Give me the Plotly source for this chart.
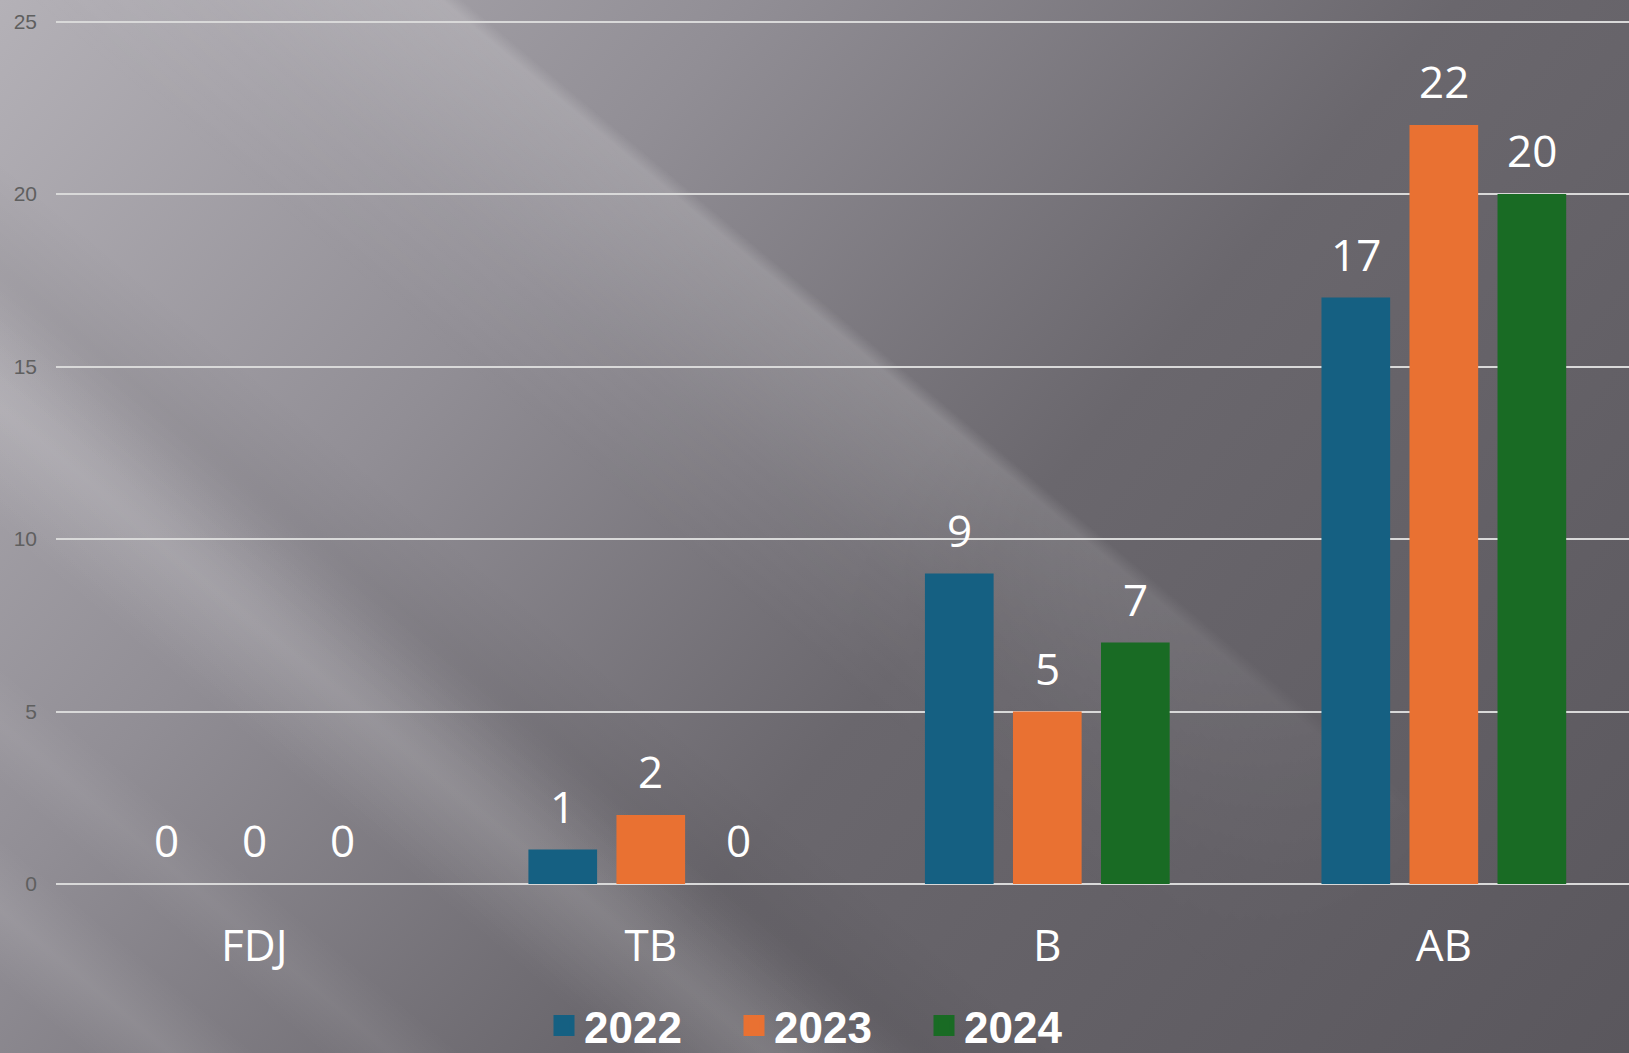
import base64
import plotly.graph_objects as go

# ---------------- data ----------------
categories = ["FDJ", "TB", "B", "AB"]
series_names = ["2022", "2023", "2024"]
values_2022 = [0, 1, 9, 17]
values_2023 = [0, 2, 5, 22]
values_2024 = [0, 0, 7, 20]
series_values = [values_2022, values_2023, values_2024]
series_colors = ["#156082", "#E97132", "#196B24"]
y_ticks = [0, 5, 10, 15, 20, 25]

# ---------------- geometry ----------------
W, H = 1629, 1053
M_L, M_R, M_T, M_B = 56, 0, 14, 169
BARGAP = 0.334
BARGROUPGAP = 0.22
X_RANGE = [-0.5, 3.467]
Y_RANGE = [0, 25.22]

# ---------------- background (svg) ----------------
def band(cx, cy, w, gid, angle=40, length=3200):
    return (f'<rect x="{-length/2}" y="{-w/2}" width="{length}" height="{w}" '
            f'fill="url(#{gid})" transform="translate({cx},{cy}) rotate({angle})"/>')

grad_defs = []
def grad(gid, color, op, profile):
    s = "".join(f'<stop offset="{o}" stop-color="{color}" stop-opacity="{op*f:.3f}"/>' for o, f in profile)
    grad_defs.append(f'<linearGradient id="{gid}" x1="0" y1="0" x2="0" y2="1">{s}</linearGradient>')

# local +y points down-left; offset 0 is the upper-right side
grad("sharpW", "#ffffff", 0.17, [(0, 0), (0.05, 1), (0.3, 0.7), (0.6, 0.3), (1, 0)])
grad("softW", "#ffffff", 0.11, [(0, 0), (0.5, 1), (1, 0)])
grad("softW2", "#ffffff", 0.09, [(0, 0), (0.5, 1), (1, 0)])
grad("softW3", "#ffffff", 0.06, [(0, 0), (0.5, 1), (1, 0)])
grad("softW4", "#ffffff", 0.05, [(0, 0), (0.5, 1), (1, 0)])
grad("softK", "#000000", 0.05, [(0, 0), (0.5, 1), (1, 0)])

main_band = band(770, 440, 280, "sharpW")
other_bands = [
    band(230, 600, 190, "softW"),
    band(90, 800, 90, "softW3"),
    band(60, 960, 110, "softW2"),
    band(560, 740, 170, "softK"),
    band(700, 1000, 160, "softW4"),
]

svg = f'''<svg xmlns="http://www.w3.org/2000/svg" width="{W}" height="{H}" viewBox="0 0 {W} {H}" preserveAspectRatio="none">
<defs>
<linearGradient id="base" gradientUnits="userSpaceOnUse" x1="0" y1="0" x2="1475" y2="1237">
<stop offset="0" stop-color="#b4b1b7"/>
<stop offset="0.30" stop-color="#918e95"/>
<stop offset="0.58" stop-color="#6a676d"/>
<stop offset="1" stop-color="#5a575d"/>
</linearGradient>
<linearGradient id="mgrad" gradientUnits="userSpaceOnUse" x1="900" y1="480" x2="1400" y2="900">
<stop offset="0" stop-color="#ffffff"/>
<stop offset="1" stop-color="#000000"/>
</linearGradient>
<mask id="bandmask" maskUnits="userSpaceOnUse" x="0" y="0" width="{W}" height="{H}">
<rect x="0" y="0" width="{W}" height="{H}" fill="url(#mgrad)"/>
</mask>
{''.join(grad_defs)}
</defs>
<rect x="0" y="0" width="{W}" height="{H}" fill="url(#base)"/>
<g mask="url(#bandmask)">{main_band}</g>
{''.join(other_bands)}
</svg>'''
bg_uri = "data:image/svg+xml;base64," + base64.b64encode(svg.encode()).decode()

plot_w = W - M_L - M_R
plot_h = H - M_T - M_B

# ---------------- figure ----------------
fig = go.Figure()
for name, vals, col in zip(series_names, series_values, series_colors):
    fig.add_trace(go.Bar(
        name=name, x=categories, y=vals, marker=dict(color=col, line=dict(width=0)),
        showlegend=False, hoverinfo="x+y+name",
    ))
# legend entries (bigger square swatches)
for name, col in zip(series_names, series_colors):
    fig.add_trace(go.Scatter(
        name=name, x=[None], y=[None], mode="markers",
        marker=dict(symbol="square", size=16, color=col, line=dict(color=col, width=5)),
        showlegend=True, hoverinfo="skip",
    ))

# data labels
slot = (1 - BARGAP) / len(series_names)
annotations = []
for j, vals in enumerate(series_values):
    off = (j - (len(series_names) - 1) / 2) * slot
    for i, v in enumerate(vals):
        annotations.append(dict(
            x=i + off, y=v, xref="x", yref="y", text=str(v), showarrow=False,
            yanchor="middle", xanchor="center", yshift=44,
            font=dict(family="Open Sans", size=44, color="#ffffff"),
        ))

fig.update_layout(
    width=W, height=H,
    margin=dict(l=M_L, r=M_R, t=M_T, b=M_B, pad=0),
    paper_bgcolor="#7a777d", plot_bgcolor="rgba(0,0,0,0)",
    barmode="group", bargap=BARGAP, bargroupgap=BARGROUPGAP,
    annotations=annotations,
    images=[dict(
        source=bg_uri, xref="paper", yref="paper",
        x=-M_L / plot_w, y=1 + M_T / plot_h,
        sizex=W / plot_w, sizey=H / plot_h,
        xanchor="left", yanchor="top", sizing="stretch", layer="below",
    )],
    legend=dict(
        orientation="h", xref="container", yref="container",
        x=544 / W, y=(H - 1026) / H, xanchor="left", yanchor="middle",
        entrywidth=145, entrywidthmode="pixels",
        font=dict(family="Liberation Sans", size=44, color="#ffffff", weight="bold"),
        bgcolor="rgba(0,0,0,0)", borderwidth=0, itemclick=False,
    ),
    xaxis=dict(
        type="category", categoryorder="array", categoryarray=categories,
        range=X_RANGE, showgrid=False, showline=False, zeroline=False, ticks="",
        tickfont=dict(family="Open Sans", size=44, color="#ffffff"),
        ticklabelstandoff=32,
    ),
    yaxis=dict(
        range=Y_RANGE, tickvals=y_ticks, ticktext=[str(t) for t in y_ticks],
        showgrid=True, gridcolor="#d9d9d9", gridwidth=2,
        zeroline=True, zerolinecolor="#d9d9d9", zerolinewidth=2,
        showline=False, ticks="",
        tickfont=dict(family="Liberation Sans", size=21, color="#5f5f5f"),
        ticklabelstandoff=18,
    ),
    showlegend=True,
)

fig.write_html(
    "out.html",
    config={"displayModeBar": False},
    post_script="document.body.style.margin='0';document.body.style.overflow='hidden';",
)
